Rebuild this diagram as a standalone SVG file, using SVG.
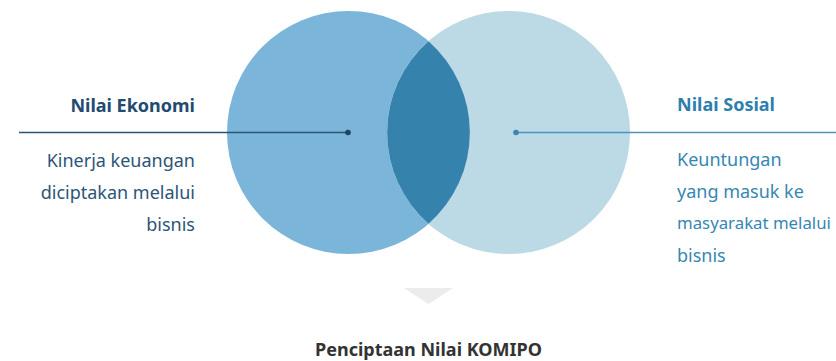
<svg xmlns="http://www.w3.org/2000/svg" width="836" height="361" viewBox="0 0 836 361">
<style>
text{font-family:"Noto Sans","Open Sans","Liberation Sans",sans-serif;font-size:18px}
.h{font-weight:bold}
.l{fill:#2c5577;text-anchor:end}
.r{fill:#3587b3}
</style>
<rect width="836" height="361" fill="#fff"/>
<g id="circles">
<circle cx="348.5" cy="132.5" r="121.5" fill="#7bb5d9"/>
<circle cx="508.5" cy="132.5" r="121.5" fill="#bcd9e6"/>
<path d="M428.5 41.2 A121.5 121.5 0 0 1 428.5 223.8 A121.5 121.5 0 0 1 428.5 41.2 Z" fill="#3583ac"/>
</g>
<g id="connectors">
<line x1="19" y1="132.5" x2="348" y2="132.5" stroke="#2a5378" stroke-width="1.5"/>
<circle cx="348" cy="132.5" r="2.8" fill="#1f4466"/>
<line x1="516" y1="132.5" x2="836" y2="132.5" stroke="#4d95bb" stroke-width="1.5"/>
<circle cx="516" cy="132.5" r="2.8" fill="#3a86b0"/>
</g>
<g id="nilai-ekonomi">
<text x="195" y="112" class="h l" style="fill:#234a70">Nilai Ekonomi</text>
<text x="195" y="167" class="l">Kinerja keuangan</text>
<text x="195" y="199" class="l">diciptakan melalui</text>
<text x="195" y="231" class="l">bisnis</text>
</g>
<g id="nilai-sosial">
<text x="677" y="111" class="h r" style="fill:#2d80ad">Nilai Sosial</text>
<text x="677" y="166" class="r">Keuntungan</text>
<text x="677" y="198" class="r">yang masuk ke</text>
<text x="677" y="229" class="r" style="font-size:16.8px">masyarakat melalui</text>
<text x="677" y="262" class="r">bisnis</text>
</g>
<g id="result">
<polygon points="404,288 453,288 428.5,304" fill="#ececec"/>
<text x="428.5" y="356" class="h" style="fill:#333;text-anchor:middle">Penciptaan Nilai KOMIPO</text>
</g>
</svg>
